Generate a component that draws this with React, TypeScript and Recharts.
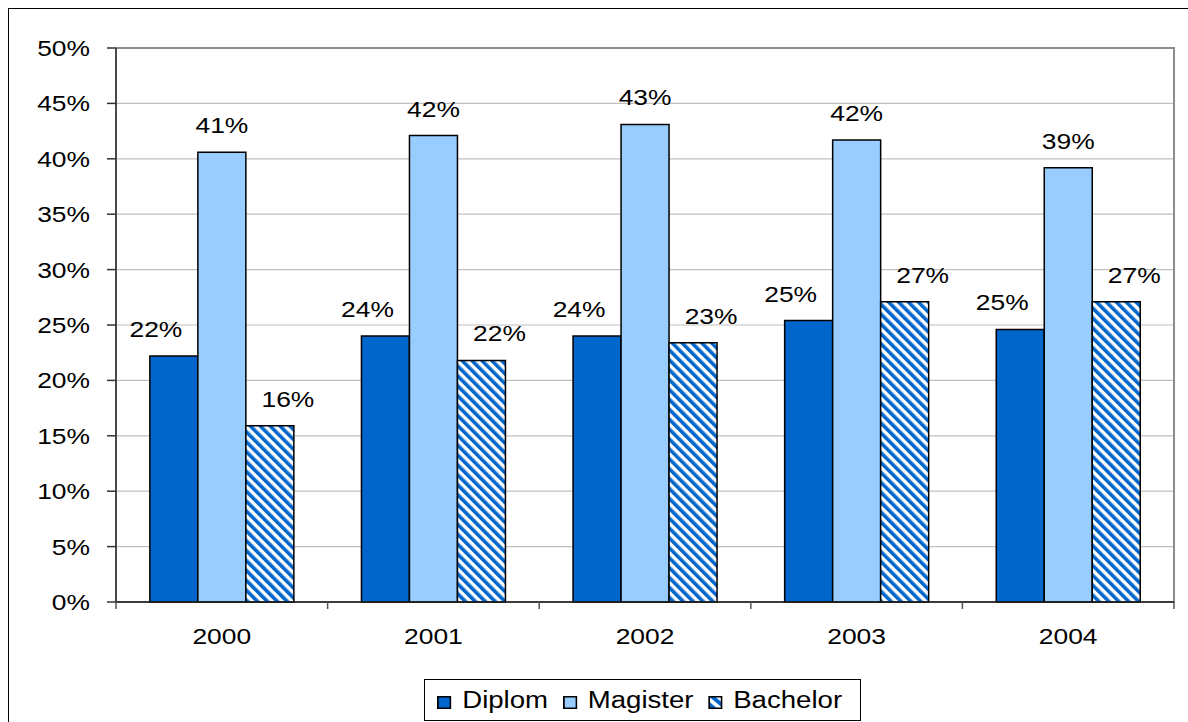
import {
  Bar,
  BarChart,
  CartesianGrid,
  LabelList,
  Legend,
  ReferenceArea,
  XAxis,
  YAxis,
} from 'recharts';

const years = ['2000', '2001', '2002', '2003', '2004'];
const diplom = [0.222, 0.24, 0.24, 0.254, 0.246];
const magister = [0.406, 0.421, 0.431, 0.417, 0.392];
const bachelor = [0.159, 0.218, 0.234, 0.271, 0.271];
const yTicks = [0, 0.05, 0.1, 0.15, 0.2, 0.25, 0.3, 0.35, 0.4, 0.45, 0.5];

const DARK_BLUE = '#0066cc';
const LIGHT_BLUE = '#99ccff';
const FONT = '"Liberation Sans", Arial, sans-serif';

const rows = years.map((year, i) => ({
  year,
  Diplom: diplom[i],
  Magister: magister[i],
  Bachelor: bachelor[i],
}));

const pct = (v: number) => `${Math.round(v * 100)}%`;

// the source chart was stretched sideways, so text is widened a bit
function WideText({ x, y, text, anchor }: { x: number; y: number; text: string; anchor: 'start' | 'middle' | 'end' }) {
  return (
    <text
      transform={`translate(${x},${y}) scale(1.2,1)`}
      textAnchor={anchor}
      fontFamily={FONT}
      fontSize={22}
      fill="#000"
    >
      {text}
    </text>
  );
}

const YTick = (p: any) => <WideText x={p.x} y={p.y + 8} text={pct(p.payload.value)} anchor="end" />;
const XTick = (p: any) => <WideText x={p.x} y={p.y + 12} text={String(p.payload.value)} anchor="middle" />;

// Excel puts the x tick marks between categories, not under them
const EdgeTick = (p: any) => {
  const half = p.width / p.visibleTicksCount / 2;
  const last = p.index === p.visibleTicksCount - 1;
  return (
    <g stroke="#555" strokeWidth={1.5}>
      <line x1={p.x - half} x2={p.x - half} y1={p.y} y2={p.y + 7} />
      {last && <line x1={p.x + half} x2={p.x + half} y1={p.y} y2={p.y + 7} />}
    </g>
  );
};

// outer series' labels sit a little off-centre in the original
const barLabel = (shift: number) => (p: any) => (
  <WideText x={p.x + p.width / 2 + shift} y={p.y - 19} text={pct(p.value)} anchor="middle" />
);

const legendItems = [
  { name: 'Diplom', fill: DARK_BLUE },
  { name: 'Magister', fill: LIGHT_BLUE },
  { name: 'Bachelor', fill: 'url(#hatch)' },
];

function LegendBox() {
  return (
    <div
      style={{
        width: 437,
        height: 42,
        border: '1px solid #000',
        background: '#fff',
        boxSizing: 'border-box',
        paddingLeft: 12,
        paddingTop: 6,
      }}
    >
      <div style={{ display: 'flex', alignItems: 'center', transform: 'scaleX(1.2)', transformOrigin: 'left' }}>
        {legendItems.map((it) => (
          <div key={it.name} style={{ display: 'flex', alignItems: 'center', marginRight: 12 }}>
            <svg width={12} height={13} style={{ marginRight: 9, marginTop: 4 }}>
              <rect x={0.75} y={0.75} width={10.5} height={11.5} fill={it.fill} stroke="#000" strokeWidth={1.5} />
            </svg>
            <span style={{ fontFamily: FONT, fontSize: 23, color: '#000', lineHeight: '28px' }}>{it.name}</span>
          </div>
        ))}
      </div>
    </div>
  );
}

export default function App() {
  return (
    <div style={{ position: 'absolute', left: 0, top: 0, width: 1188, height: 722, overflow: 'hidden', background: '#fff' }}>
      <div
        style={{
          position: 'absolute',
          left: 8,
          top: 8,
          width: 1300,
          height: 900,
          border: '1.5px solid #000',
        }}
      />
      <BarChart
        width={1188}
        height={722}
        data={rows}
        margin={{ top: 48, right: 14, left: 0, bottom: 79 }}
        barCategoryGap="16%"
        barGap={0}
        style={{ position: 'absolute', left: 0, top: 0 }}
      >
        <defs>
          <pattern id="hatch" width={7} height={7} patternUnits="userSpaceOnUse" patternTransform="rotate(-45)">
            <rect width={7} height={7} fill="#fff" />
            <rect width={3.6} height={7} fill={DARK_BLUE} />
          </pattern>
        </defs>
        <CartesianGrid xAxisId="b-cat" vertical={false} stroke="#c0c0c0" strokeWidth={1.2} />
        <ReferenceArea
          xAxisId="b-cat"
          x1="2000"
          x2="2004"
          y1={0}
          y2={0.5}
          fill="none"
          stroke="#8c8c8c"
          strokeWidth={2}
          ifOverflow="visible"
        />
        <XAxis
          xAxisId="a-edges"
          dataKey="year"
          height={1}
          interval={0}
          tick={EdgeTick}
          tickLine={false}
          tickSize={0}
          tickMargin={0}
          axisLine={{ stroke: '#222', strokeWidth: 1.5 }}
        />
        <XAxis
          xAxisId="b-cat"
          dataKey="year"
          height={40}
          tickLine={false}
          axisLine={false}
          tickSize={0}
          tickMargin={29}
          tick={XTick}
          interval={0}
        />
        <YAxis
          width={116}
          domain={[0, 0.5]}
          ticks={yTicks}
          interval={0}
          tickSize={9}
          tickMargin={17}
          tick={YTick}
          tickLine={{ stroke: '#333', strokeWidth: 1.5 }}
          axisLine={{ stroke: '#333', strokeWidth: 1.5 }}
        />
        <Legend
          verticalAlign="middle"
          layout="horizontal"
          content={() => <LegendBox />}
          wrapperStyle={{ left: 424, top: 679, width: 437, bottom: 'auto' }}
        />
        <Bar xAxisId="b-cat" dataKey="Diplom" fill={DARK_BLUE} stroke="#000" strokeWidth={1.5} isAnimationActive={false}>
          <LabelList dataKey="Diplom" content={barLabel(-18)} />
        </Bar>
        <Bar xAxisId="b-cat" dataKey="Magister" fill={LIGHT_BLUE} stroke="#000" strokeWidth={1.5} isAnimationActive={false}>
          <LabelList dataKey="Magister" content={barLabel(0)} />
        </Bar>
        <Bar xAxisId="b-cat" dataKey="Bachelor" fill="url(#hatch)" stroke="#000" strokeWidth={1.5} isAnimationActive={false}>
          <LabelList dataKey="Bachelor" content={barLabel(18)} />
        </Bar>
      </BarChart>
    </div>
  );
}
